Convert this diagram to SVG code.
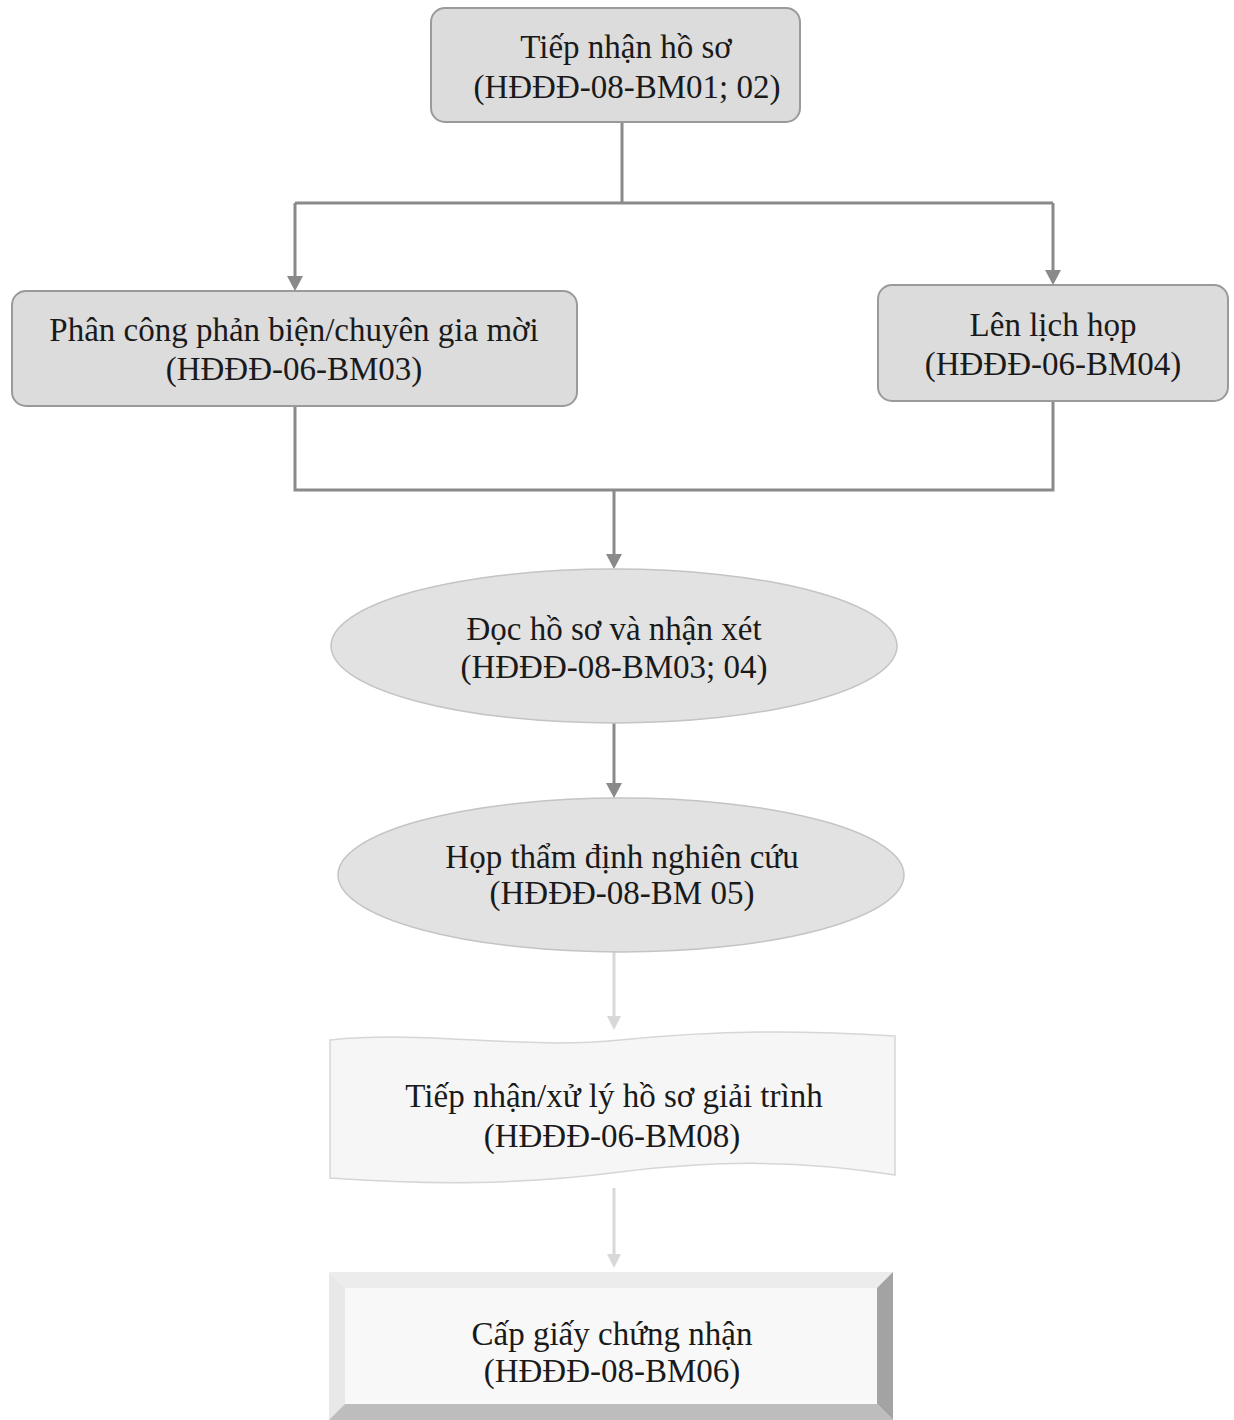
<svg xmlns="http://www.w3.org/2000/svg" width="1234" height="1420" viewBox="0 0 1234 1420">
<style>
.t{font-family:"Liberation Serif","Times New Roman",serif;font-size:33px;fill:#1a1a1a;text-anchor:middle}
.box{fill:#dcdcdc;stroke:#9a9a9a;stroke-width:2}
.ell{fill:#e2e2e2;stroke:#c4c4c4;stroke-width:1.5}
.c{fill:none;stroke:#8a8a8a;stroke-width:3}
.cf{fill:none;stroke:#d8d8d8;stroke-width:3}
</style>
<rect width="1234" height="1420" fill="#ffffff"/>
<g id="connectors">
<path class="c" d="M622 122 V203 M295 203 H1053 M295 203 V278 M1053 203 V272"/>
<polygon points="287,276 303,276 295,291" fill="#8a8a8a"/>
<polygon points="1045,270 1061,270 1053,285" fill="#8a8a8a"/>
<path class="c" d="M295 406 V490 H1053 V401 M614 490 V556"/>
<polygon points="606,554 622,554 614,569" fill="#8a8a8a"/>
<path class="c" d="M614 722 V785"/>
<polygon points="606,783 622,783 614,798" fill="#8a8a8a"/>
<path class="cf" d="M614 952 V1018"/>
<polygon points="607,1016 621,1016 614,1030" fill="#d8d8d8"/>
<path class="cf" d="M614 1188 V1256"/>
<polygon points="607,1254 621,1254 614,1268" fill="#d8d8d8"/>
</g>
<g id="n1">
<rect class="box" x="431" y="8" width="369" height="114" rx="14"/>
<text class="t" x="626" y="58">Tiếp nhận hồ sơ</text>
<text class="t" x="627" y="98">(HĐĐĐ-08-BM01; 02)</text>
</g>
<g id="n2">
<rect class="box" x="12" y="291" width="565" height="115" rx="14"/>
<text class="t" x="294" y="341">Phân công phản biện/chuyên gia mời</text>
<text class="t" x="294" y="380">(HĐĐĐ-06-BM03)</text>
</g>
<g id="n3">
<rect class="box" x="878" y="285" width="350" height="116" rx="14"/>
<text class="t" x="1053" y="336">Lên lịch họp</text>
<text class="t" x="1053" y="375">(HĐĐĐ-06-BM04)</text>
</g>
<g id="n4">
<ellipse class="ell" cx="614" cy="646" rx="283" ry="77"/>
<text class="t" x="614" y="640">Đọc hồ sơ và nhận xét</text>
<text class="t" x="614" y="678">(HĐĐĐ-08-BM03; 04)</text>
</g>
<g id="n5">
<ellipse class="ell" cx="621" cy="875" rx="283" ry="77"/>
<text class="t" x="622" y="868">Họp thẩm định nghiên cứu</text>
<text class="t" x="622" y="904">(HĐĐĐ-08-BM 05)</text>
</g>
<g id="n6">
<path d="M330 1040 C430 1030 520 1050 620 1040 C720 1030 800 1030 895 1036 V1175 C800 1160 720 1160 620 1172 C520 1185 430 1185 330 1178 Z" fill="#f6f6f6" stroke="#d6d6d6" stroke-width="1.5"/>
<text class="t" x="614" y="1107">Tiếp nhận/xử lý hồ sơ giải trình</text>
<text class="t" x="612" y="1147">(HĐĐĐ-06-BM08)</text>
</g>
<g id="n7">
<rect x="329" y="1272" width="564" height="148" fill="#f2f2f2"/>
<polygon points="329,1272 893,1272 877,1288 345,1288" fill="#ececec"/>
<polygon points="329,1272 345,1288 345,1404 329,1420" fill="#e8e8e8"/>
<polygon points="893,1272 893,1420 877,1404 877,1288" fill="#a3a3a3"/>
<polygon points="329,1420 345,1404 877,1404 893,1420" fill="#bdbdbd"/>
<rect x="345" y="1288" width="532" height="116" fill="#f8f8f8"/>
<text class="t" x="612" y="1345">Cấp giấy chứng nhận</text>
<text class="t" x="612" y="1382">(HĐĐĐ-08-BM06)</text>
</g>
</svg>
